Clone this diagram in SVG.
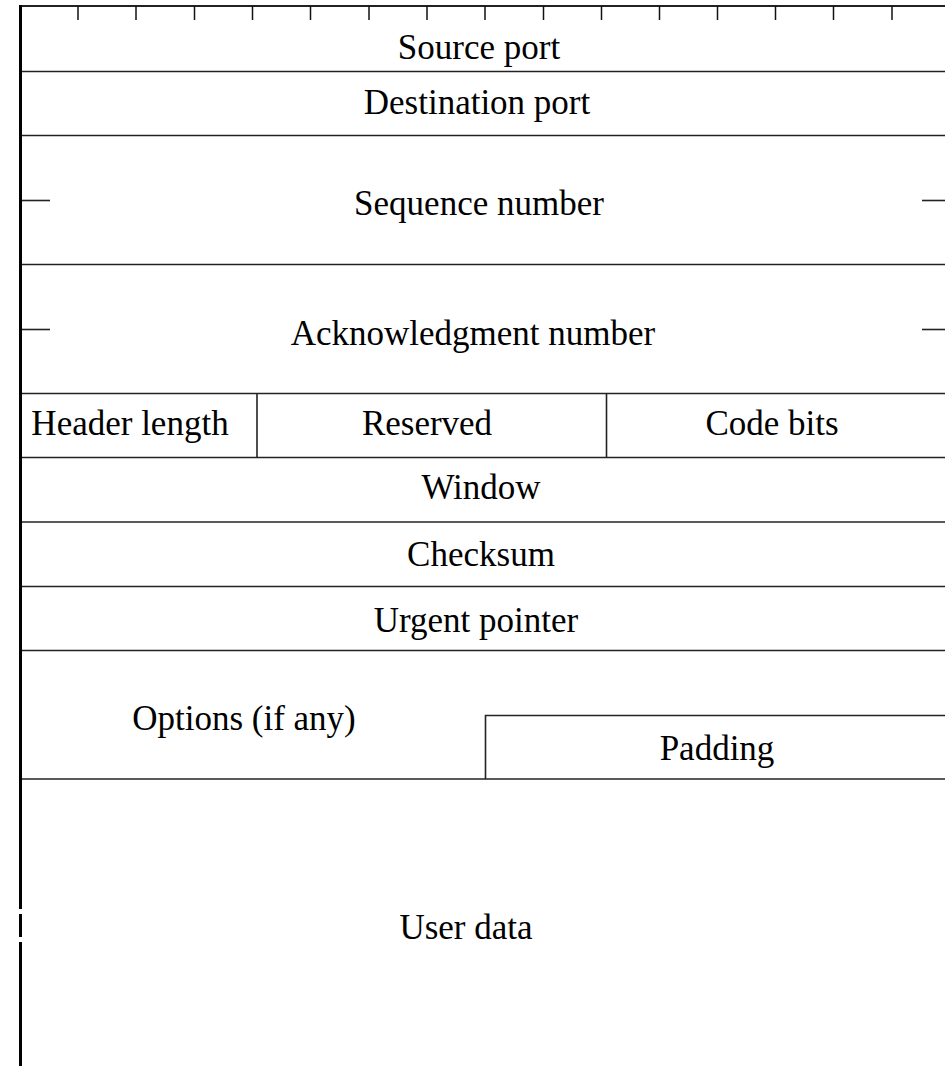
<svg xmlns="http://www.w3.org/2000/svg" width="945" height="1066" viewBox="0 0 945 1066">
  <style>
    .rule { stroke: #222; stroke-width: 1.6; fill: none; }
    .frame { stroke: #000; stroke-width: 3; fill: none; }
    .tick { stroke: #111; stroke-width: 1.5; fill: none; }
    .lbl { font-family: "Liberation Serif", "Times New Roman", serif; font-size: 35px; fill: #000; text-anchor: middle; }
  </style>
  <rect x="0" y="0" width="945" height="1066" fill="#fff"/>

  <!-- outer frame: top edge and left edge (left edge broken near the data area) -->
  <g id="frame">
    <line class="rule" x1="19" y1="6" x2="945" y2="6" style="stroke-width:2.2"/>
    <line class="frame" x1="20.5" y1="5" x2="20.5" y2="909"/>
    <line class="frame" x1="20.5" y1="914" x2="20.5" y2="937"/>
    <line class="frame" x1="20.5" y1="942" x2="20.5" y2="1066"/>
  </g>

  <!-- bit scale ticks along the top edge -->
  <g id="ticks">
    <line class="tick" x1="78" y1="6" x2="78" y2="20"/>
    <line class="tick" x1="136" y1="6" x2="136" y2="20"/>
    <line class="tick" x1="194.5" y1="6" x2="194.5" y2="20"/>
    <line class="tick" x1="252.5" y1="6" x2="252.5" y2="20"/>
    <line class="tick" x1="310.5" y1="6" x2="310.5" y2="20"/>
    <line class="tick" x1="369" y1="6" x2="369" y2="20"/>
    <line class="tick" x1="427" y1="6" x2="427" y2="20"/>
    <line class="tick" x1="485" y1="6" x2="485" y2="20"/>
    <line class="tick" x1="543.5" y1="6" x2="543.5" y2="20"/>
    <line class="tick" x1="601.5" y1="6" x2="601.5" y2="20"/>
    <line class="tick" x1="659.5" y1="6" x2="659.5" y2="20"/>
    <line class="tick" x1="717.5" y1="6" x2="717.5" y2="20"/>
    <line class="tick" x1="775.5" y1="6" x2="775.5" y2="20"/>
    <line class="tick" x1="833.5" y1="6" x2="833.5" y2="20"/>
    <line class="tick" x1="892" y1="6" x2="892" y2="20"/>
  </g>

  <g id="source-port">
    <text class="lbl" x="479" y="59">Source port</text>
    <line class="rule" x1="22" y1="71.5" x2="945" y2="71.5"/>
  </g>

  <g id="destination-port">
    <text class="lbl" x="477" y="114">Destination port</text>
    <line class="rule" x1="22" y1="135.5" x2="945" y2="135.5"/>
  </g>

  <g id="sequence-number">
    <line class="rule" x1="22" y1="200.5" x2="50" y2="200.5"/>
    <line class="rule" x1="922" y1="200.5" x2="945" y2="200.5"/>
    <text class="lbl" x="479" y="215">Sequence number</text>
    <line class="rule" x1="22" y1="264.5" x2="945" y2="264.5"/>
  </g>

  <g id="acknowledgment-number">
    <line class="rule" x1="22" y1="329.5" x2="50" y2="329.5"/>
    <line class="rule" x1="922" y1="329.5" x2="945" y2="329.5"/>
    <text class="lbl" x="473" y="345">Acknowledgment number</text>
    <line class="rule" x1="22" y1="393.5" x2="945" y2="393.5"/>
  </g>

  <g id="header-length">
    <text class="lbl" x="130" y="435">Header length</text>
    <line class="rule" x1="257" y1="393.5" x2="257" y2="457.5"/>
  </g>

  <g id="reserved">
    <text class="lbl" x="427" y="435">Reserved</text>
    <line class="rule" x1="606.5" y1="393.5" x2="606.5" y2="457.5"/>
  </g>

  <g id="code-bits">
    <text class="lbl" x="772" y="435">Code bits</text>
    <line class="rule" x1="22" y1="457.5" x2="945" y2="457.5"/>
  </g>

  <g id="window">
    <text class="lbl" x="481" y="499">Window</text>
    <line class="rule" x1="22" y1="522" x2="945" y2="522"/>
  </g>

  <g id="checksum">
    <text class="lbl" x="481" y="566">Checksum</text>
    <line class="rule" x1="22" y1="586.5" x2="945" y2="586.5"/>
  </g>

  <g id="urgent-pointer">
    <text class="lbl" x="476" y="632">Urgent pointer</text>
    <line class="rule" x1="22" y1="650.5" x2="945" y2="650.5"/>
  </g>

  <g id="options">
    <text class="lbl" x="244" y="730">Options (if any)</text>
  </g>

  <g id="padding">
    <polyline class="rule" points="485.5,779 485.5,715.5 945,715.5"/>
    <text class="lbl" x="717" y="760">Padding</text>
    <line class="rule" x1="22" y1="779" x2="945" y2="779"/>
  </g>

  <g id="user-data">
    <text class="lbl" x="466" y="939">User data</text>
  </g>
</svg>
